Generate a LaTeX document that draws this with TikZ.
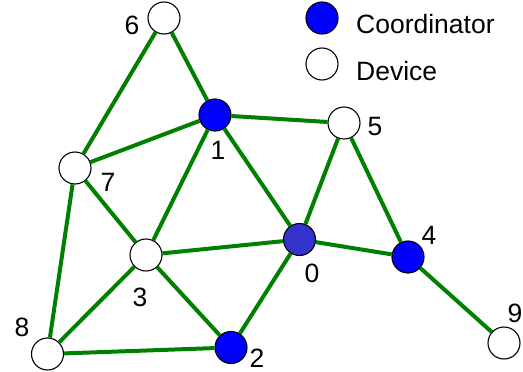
\documentclass[tikz,border=0pt]{standalone}
\usepackage{fontspec}
\setmainfont{Liberation Sans}
\begin{document}
\begin{tikzpicture}[x=1pt,y=-1pt,
  dev/.style={circle,draw=black,line width=1.1pt,fill=white,minimum size=32pt,inner sep=0pt},
  coord/.style={dev,fill=blue},
  coordz/.style={dev,fill={rgb,255:red,51;green,51;blue,204}},
  lbl/.style={font=\fontsize{26.5}{26.5}\selectfont,inner sep=0pt},
  link/.style={draw={rgb,255:red,0;green,128;blue,0},line width=4pt}]
\useasboundingbox (0,0) rectangle (523,372);
% nodes
\node[dev] (n6) at (164,18) {};
\node[coord] (n1) at (215,115) {};
\node[dev] (n5) at (344,123) {};
\node[dev] (n7) at (75,168) {};
\node[dev] (n3) at (146,255) {};
\node[coordz] (n0) at (299.5,239.5) {};
\node[coord] (n4) at (408,257) {};
\node[dev] (n9) at (504,343) {};
\node[dev] (n8) at (47.5,354) {};
\node[coord] (n2) at (231,347.5) {};
% links
\foreach \a/\b in {n6/n1,n6/n7,n1/n7,n1/n5,n1/n3,n1/n0,n5/n0,n5/n4,n7/n3,n7/n8,n3/n0,n3/n8,n3/n2,n0/n2,n0/n4,n4/n9,n8/n2}
  \draw[link] (\a) -- (\b);
% labels
\node[lbl] (l6) at (132,25) {6};
\node[lbl] (l1) at (218,150) {1};
\node[lbl] (l5) at (375,127) {5};
\node[lbl] (l7) at (108,182) {7};
\node[lbl] (l3) at (140,297) {3};
\node[lbl] (l0) at (312,273) {0};
\node[lbl] (l4) at (429,235) {4};
\node[lbl] (l9) at (515,313) {9};
\node[lbl] (l8) at (22,327) {8};
\node[lbl] (l2) at (257,358) {2};
% legend
\node[coord] (lc) at (322,18) {};
\node[dev] (ld) at (322,64) {};
\node[lbl,anchor=west] (tc) at (356,24.5) {Coordinator};
\node[lbl,anchor=west] (td) at (356,71) {Device};
\end{tikzpicture}
\end{document}
